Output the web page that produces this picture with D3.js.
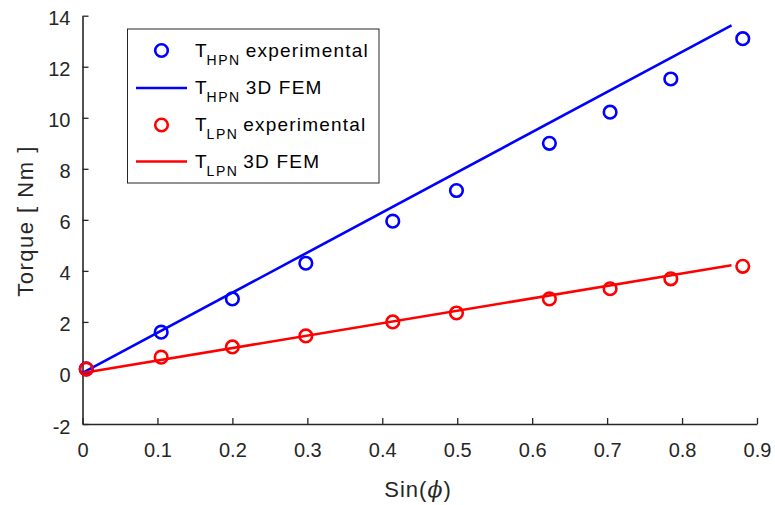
<!DOCTYPE html>
<html><head><meta charset="utf-8">
<script src="https://cdn.jsdelivr.net/npm/d3@7"></script>
<style>body{margin:0;background:#fff}svg{display:block}</style>
</head><body>
<script>
const sinPhi = [0.005, 0.105, 0.2, 0.298, 0.414, 0.499, 0.623, 0.704, 0.785, 0.881];
const hpnExp = [0.16, 1.6, 2.9, 4.3, 5.95, 7.15, 9.0, 10.22, 11.52, 13.1];
const lpnExp = [0.15, 0.62, 1.02, 1.45, 2.0, 2.35, 2.9, 3.3, 3.69, 4.18];
const femX = [0, 0.866];
const hpnFem = [0, 13.62];
const lpnFem = [0, 4.22];
const xTicks = [0,0.1,0.2,0.3,0.4,0.5,0.6,0.7,0.8,0.9];
const yTicks = [-2,0,2,4,6,8,10,12,14];

const W=775,H=505;
const svg=d3.select("body").append("svg").attr("width",W).attr("height",H);
const x=d3.scaleLinear().domain([0,0.9]).range([82.5,757]);
const y=d3.scaleLinear().domain([-2,14]).range([424,15.7]);
const axCol="#262626", font="Arial, 'Liberation Sans', Helvetica, sans-serif";

const xa=svg.append("g").attr("transform","translate(0,424)")
  .call(d3.axisBottom(x).tickValues(xTicks).tickFormat(d=>d3.format("")(+d.toFixed(1))).tickSizeInner(-6).tickSizeOuter(0));
const ya=svg.append("g").attr("transform","translate(82.5,0)")
  .call(d3.axisLeft(y).tickValues(yTicks).tickFormat(d=>d).tickSizeInner(-6).tickSizeOuter(0).tickPadding(12));
[xa,ya].forEach(a=>{
  a.select(".domain").attr("stroke",axCol).attr("stroke-width",1.6);
  a.selectAll(".tick line").attr("stroke",axCol).attr("stroke-width",1.3);
  a.selectAll("text").attr("fill",axCol).style("font-family",font).style("font-size","20px");
});
xa.selectAll("text").attr("dy",null).attr("y",33);
ya.selectAll("text").attr("dy","0.45em");

const line=d3.line().x(d=>x(d[0])).y(d=>y(d[1]));
svg.append("path").datum(femX.map((v,i)=>[v,hpnFem[i]])).attr("d",line).attr("fill","none").attr("stroke","#0000ff").attr("stroke-width",2.6);
svg.append("path").datum(femX.map((v,i)=>[v,lpnFem[i]])).attr("d",line).attr("fill","none").attr("stroke","#ff0000").attr("stroke-width",2.6);

svg.append("g").selectAll("circle").data(sinPhi.map((v,i)=>[v,hpnExp[i]])).join("circle")
  .attr("cx",d=>x(d[0])).attr("cy",d=>y(d[1])).attr("r",6.3).attr("fill","none").attr("stroke","#0000ff").attr("stroke-width",2.6);
svg.append("g").selectAll("circle").data(sinPhi.map((v,i)=>[v,lpnExp[i]])).join("circle")
  .attr("cx",d=>x(d[0])).attr("cy",d=>y(d[1])).attr("r",6.3).attr("fill","none").attr("stroke","#ff0000").attr("stroke-width",2.6);

// axis labels
svg.append("text").attr("transform","translate(33,221) rotate(-90)").attr("text-anchor","middle")
  .style("font-family",font).style("font-size","22px").style("letter-spacing","1.5px").attr("fill",axCol).text("Torque [ Nm ]");
const xl=svg.append("text").attr("x",418).attr("y",497).attr("text-anchor","middle")
  .style("font-family",font).style("font-size","22px").style("letter-spacing","1px").attr("fill",axCol);
xl.append("tspan").text("Sin(");
xl.append("tspan").style("font-family","'DejaVu Serif', serif").style("font-style","italic").text("\u03D5");
xl.append("tspan").text(")");

// legend
const lg=svg.append("g");
lg.append("rect").attr("x",127.5).attr("y",29).attr("width",251.5).attr("height",154)
  .attr("fill","#fff").attr("stroke",axCol).attr("stroke-width",1);
const items=[
  {c:"#0000ff",t:"circle",sub:"HPN",lab:"experimental"},
  {c:"#0000ff",t:"line",sub:"HPN",lab:"3D FEM"},
  {c:"#ff0000",t:"circle",sub:"LPN",lab:"experimental"},
  {c:"#ff0000",t:"line",sub:"LPN",lab:"3D FEM"}];
const rows=[50.5,88,125,161.5];
items.forEach((it,i)=>{
  const cy=rows[i];
  if(it.t==="circle") lg.append("circle").attr("cx",161.5).attr("cy",cy).attr("r",6.3).attr("fill","none").attr("stroke",it.c).attr("stroke-width",2.6);
  else lg.append("line").attr("x1",136).attr("x2",187).attr("y1",cy).attr("y2",cy).attr("stroke",it.c).attr("stroke-width",2.6);
  const t=lg.append("text").attr("x",195).attr("y",cy+6).style("font-family",font).style("font-size","19px").attr("fill","#000");
  t.append("tspan").text("T");
  t.append("tspan").attr("dy",8).style("font-size","14px").style("letter-spacing","1.5px").text(it.sub);
  t.append("tspan").attr("dy",-8).attr("dx",5).style("letter-spacing","1.2px").text(it.lab);
});
</script>
</body></html>
